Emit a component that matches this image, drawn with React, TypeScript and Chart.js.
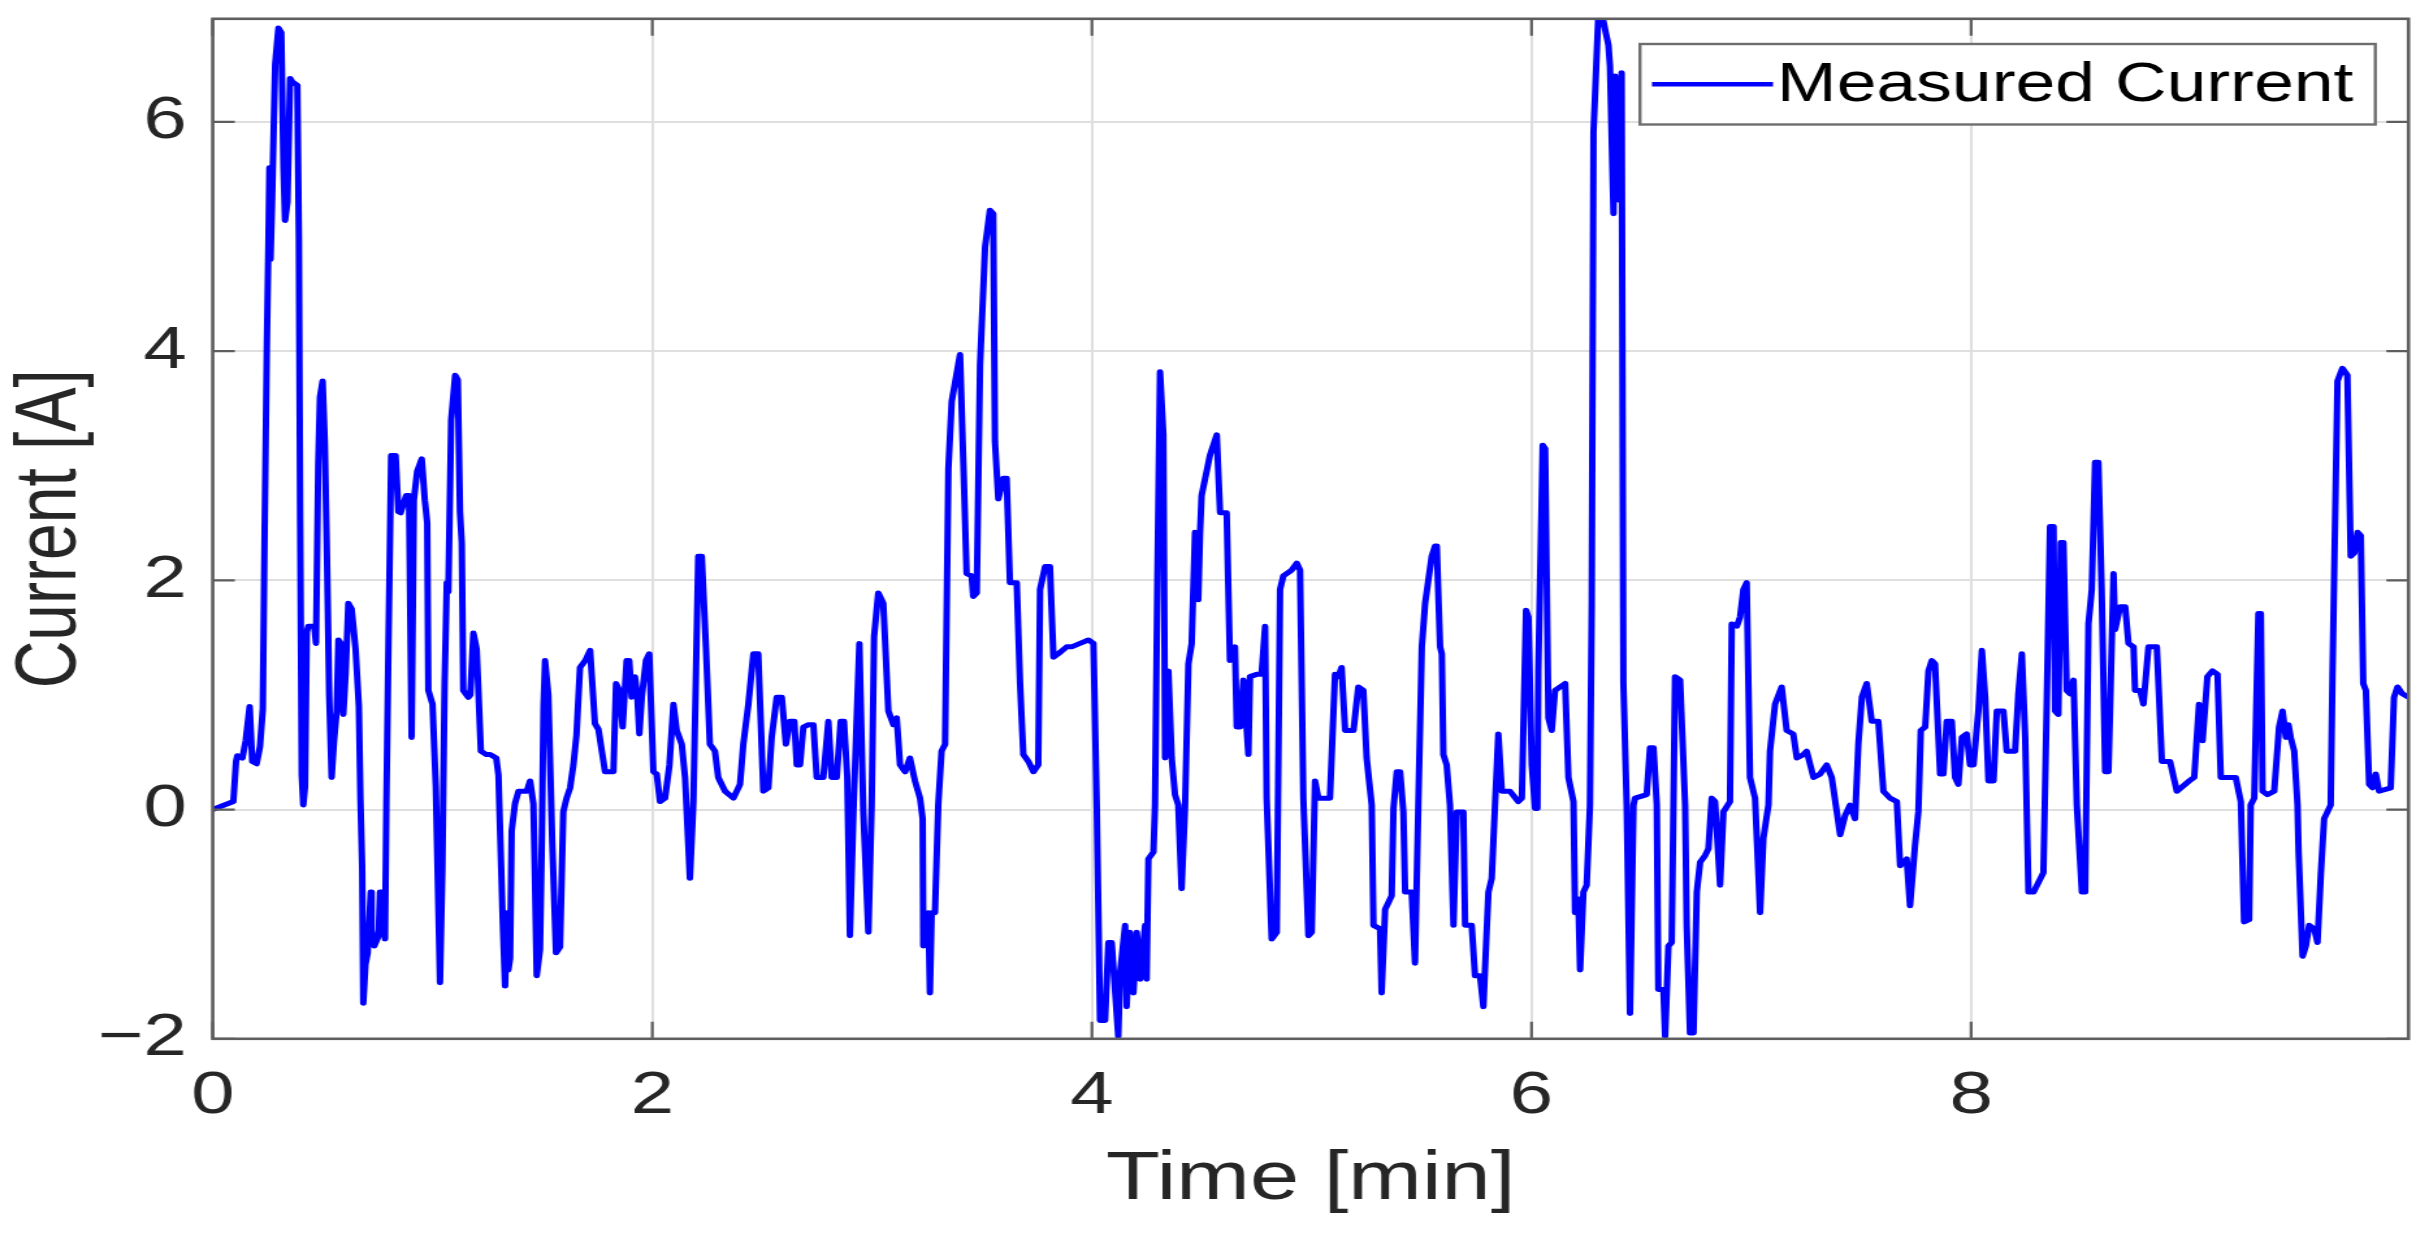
import React, { useEffect, useRef } from 'react';
import { Chart, registerables } from 'chart.js';

Chart.register(...registerables);

// ---- data ----
const timeMin: number[] = [
  0, 0.094, 0.106, 0.112, 0.135, 0.15, 0.168, 0.18, 0.2, 0.215, 0.228, 0.236, 0.246, 0.253, 0.258, 0.263, 0.27, 0.284, 0.299, 0.312,
  0.322, 0.329, 0.34, 0.352, 0.362, 0.385, 0.392, 0.398, 0.405, 0.412, 0.42, 0.428, 0.435, 0.462, 0.47, 0.48, 0.488, 0.5, 0.51, 0.519,
  0.53, 0.541, 0.552, 0.564, 0.572, 0.583, 0.594, 0.605, 0.617, 0.632, 0.65, 0.665, 0.672, 0.68, 0.685, 0.695, 0.705, 0.719, 0.723, 0.735,
  0.755, 0.761, 0.775, 0.784, 0.79, 0.8, 0.812, 0.832, 0.845, 0.855, 0.88, 0.893, 0.905, 0.915, 0.93, 0.951, 0.965, 0.976, 0.981, 1.0,
  1.015, 1.034, 1.045, 1.055, 1.065, 1.072, 1.085, 1.103, 1.115, 1.125, 1.133, 1.14, 1.163, 1.172, 1.186, 1.201, 1.22, 1.245, 1.262, 1.29,
  1.3, 1.32, 1.33, 1.34, 1.345, 1.353, 1.36, 1.375, 1.391, 1.429, 1.444, 1.459, 1.465, 1.474, 1.489, 1.498, 1.505, 1.512, 1.527, 1.545,
  1.562, 1.58, 1.595, 1.61, 1.626, 1.641, 1.655, 1.671, 1.695, 1.717, 1.739, 1.755, 1.785,
  1.823, 1.835, 1.85, 1.865, 1.883, 1.895, 1.906, 1.921, 1.932, 1.941, 1.952, 1.971, 1.986, 2.005, 2.02, 2.035, 2.058, 2.078, 2.096, 2.111,
  2.134, 2.149, 2.171, 2.187, 2.209, 2.225, 2.244, 2.262, 2.285, 2.3, 2.331, 2.369, 2.399, 2.414, 2.437, 2.46, 2.482, 2.505, 2.528, 2.543,
  2.566, 2.589, 2.608, 2.626, 2.646, 2.657, 2.672, 2.687, 2.71, 2.733, 2.748, 2.778, 2.801, 2.816, 2.839, 2.857, 2.872, 2.887, 2.899, 2.915,
  2.942, 2.96, 2.983, 2.998, 3.009, 3.028, 3.051, 3.074, 3.097, 3.112, 3.127, 3.15, 3.172, 3.195, 3.218, 3.23, 3.233, 3.256, 3.263, 3.271,
  3.286, 3.301, 3.316, 3.332, 3.347, 3.362, 3.4, 3.415, 3.43, 3.453, 3.46, 3.476, 3.491, 3.514, 3.536, 3.551, 3.559, 3.574, 3.597, 3.612,
  3.627, 3.658,
  3.673, 3.688, 3.711, 3.734, 3.756, 3.764, 3.787, 3.809, 3.825, 3.847, 3.885, 3.908, 3.946, 3.984, 4.007, 4.022, 4.037, 4.06, 4.075, 4.09,
  4.105, 4.12, 4.128, 4.151, 4.158, 4.173, 4.189, 4.204, 4.219, 4.242, 4.249, 4.257, 4.28, 4.287, 4.298, 4.31, 4.325, 4.333, 4.348, 4.363,
  4.378, 4.393, 4.408, 4.424, 4.439, 4.454, 4.469, 4.484, 4.492, 4.499, 4.537, 4.568, 4.583, 4.613, 4.628, 4.651, 4.659, 4.674, 4.689, 4.712,
  4.719, 4.75, 4.772, 4.788, 4.795, 4.818, 4.841, 4.856, 4.871, 4.909, 4.932, 4.947, 4.962, 4.985, 5.0, 5.015, 5.03, 5.083, 5.106, 5.121,
  5.136, 5.152, 5.19, 5.212, 5.235, 5.25, 5.273, 5.281, 5.311, 5.318, 5.334, 5.364, 5.372, 5.387, 5.402,
  5.417, 5.425, 5.455, 5.47, 5.485, 5.501, 5.516, 5.546, 5.561, 5.569, 5.584, 5.592, 5.599, 5.614, 5.629, 5.645, 5.66, 5.69, 5.698, 5.728,
  5.743, 5.766, 5.781, 5.793, 5.804, 5.819, 5.834, 5.849, 5.865, 5.902, 5.94, 5.956, 5.975, 5.986, 6.001, 6.016, 6.027, 6.031, 6.051, 6.062,
  6.077, 6.092, 6.107, 6.153, 6.168, 6.191, 6.198, 6.213, 6.221, 6.236, 6.251, 6.266, 6.274, 6.282, 6.304, 6.327, 6.35, 6.357, 6.373, 6.38,
  6.395, 6.41, 6.418, 6.433, 6.448, 6.464, 6.471, 6.524, 6.539, 6.555, 6.57, 6.577, 6.6, 6.608, 6.623, 6.638, 6.653, 6.676, 6.699, 6.706,
  6.721, 6.737, 6.752, 6.767, 6.79, 6.805, 6.82, 6.835, 6.858, 6.873, 6.903, 6.911, 6.934, 6.949, 6.964, 6.979, 6.994, 7.017, 7.04, 7.055,
  7.078, 7.085, 7.108, 7.138, 7.161, 7.191, 7.207, 7.237,
  7.252, 7.283, 7.313, 7.343, 7.366, 7.389, 7.404, 7.427, 7.449, 7.472, 7.487, 7.503, 7.525, 7.548, 7.578, 7.601, 7.631, 7.662, 7.677, 7.707,
  7.722, 7.745, 7.76, 7.771, 7.791, 7.806, 7.821, 7.836, 7.859, 7.874, 7.889, 7.912, 7.927, 7.942, 7.958, 7.98, 7.995, 8.011, 8.033, 8.049,
  8.064, 8.079, 8.102, 8.117, 8.147, 8.162, 8.2, 8.215, 8.231, 8.246, 8.261, 8.284, 8.329, 8.344, 8.359, 8.375, 8.382, 8.397, 8.408, 8.42,
  8.435, 8.45, 8.466, 8.481, 8.504, 8.519, 8.534, 8.549, 8.564, 8.579, 8.594, 8.61, 8.625, 8.648, 8.655, 8.678, 8.701, 8.716, 8.739, 8.746,
  8.769, 8.784, 8.807, 8.845, 8.868, 8.905, 8.936,
  8.992, 9.015, 9.037, 9.053, 9.075, 9.098, 9.121, 9.136, 9.204, 9.227, 9.242, 9.265, 9.272, 9.288, 9.307, 9.318, 9.326, 9.348, 9.379, 9.401,
  9.417, 9.432, 9.444, 9.454, 9.47, 9.485, 9.49, 9.508, 9.523, 9.538, 9.561, 9.576, 9.591, 9.606, 9.636, 9.644, 9.659, 9.667, 9.689, 9.712,
  9.727, 9.743, 9.758, 9.773, 9.784, 9.796, 9.811, 9.826, 9.841, 9.856, 9.909, 9.924, 9.94, 9.962, 9.99,
];

const currentA: number[] = [
  0, 0.07, 0.42, 0.47, 0.45, 0.6, 0.9, 0.42, 0.4, 0.55, 0.88, 2.4, 4.0, 4.9, 5.6, 4.8, 5.3, 6.5, 6.82, 6.78,
  5.6, 5.14, 5.3, 6.38, 6.35, 6.32, 5.0, 2.5, 0.3, 0.04, 0.2, 1.55, 1.6, 1.6, 1.45, 3.0, 3.6, 3.74, 3.2, 2.3,
  1.0, 0.28, 0.6, 0.86, 1.48, 1.45, 0.83, 1.2, 1.8, 1.75, 1.4, 0.9, 0.1, -0.5, -1.69, -1.35, -1.25, -0.72, -1.05, -1.19,
  -1.1, -0.72, -0.72, -1.13, 0.03, 1.5, 3.09, 3.09, 2.6, 2.59, 2.74, 2.74, 0.63, 2.7, 2.95, 3.06, 2.7, 2.5, 1.04, 0.92,
  0.2, -1.51, -0.5, 1.1, 1.98, 1.9, 3.4, 3.79, 3.75, 2.6, 2.33, 1.04, 0.98, 1.0, 1.54, 1.4, 0.51, 0.48, 0.48, 0.45,
  0.3, -1.0, -1.54, -0.9, -1.4, -1.3, -0.19, 0.05, 0.16, 0.16, 0.25, 0.05, -0.5, -1.45, -1.22, -0.2, 0.9, 1.3, 1.0, -0.3,
  -1.25, -1.2, -0.02, 0.1, 0.19, 0.39, 0.65, 1.24, 1.3, 1.39, 0.75, 0.7, 0.33,
  0.33, 1.1, 1.04, 0.72, 1.3, 1.3, 0.98, 1.16, 0.98, 0.66, 0.98, 1.3, 1.36, 0.33, 0.31, 0.07, 0.1, 0.39, 0.92, 0.69,
  0.57, 0.28, -0.6, 0.07, 2.21, 2.21, 1.42, 0.57, 0.51, 0.28, 0.16, 0.1, 0.22, 0.57, 0.92, 1.36, 1.36, 0.16, 0.19, 0.63,
  0.98, 0.98, 0.57, 0.77, 0.77, 0.39, 0.39, 0.72, 0.74, 0.74, 0.28, 0.28, 0.77, 0.28, 0.28, 0.77, 0.77, 0.28, -1.1, -0.02,
  1.45, -0.02, -1.07, 0.04, 1.51, 1.89, 1.8, 0.86, 0.74, 0.8, 0.39, 0.33, 0.45, 0.25, 0.1, -0.08, -1.19, -0.9, -1.6, -0.9,
  -0.9, 0.04, 0.51, 0.57, 2.97, 3.56, 3.97, 3.03, 2.06, 2.04, 1.86, 1.89, 3.88, 4.91, 5.23, 5.2, 3.21, 2.71, 2.89, 2.89,
  1.98, 1.98,
  1.1, 0.48, 0.42, 0.33, 0.39, 1.92, 2.12, 2.12, 1.33, 1.36, 1.42, 1.42, 1.45, 1.48, 1.45, 0.04, -1.84, -1.84, -1.16, -1.16,
  -1.57, -1.98, -1.43, -1.01, -1.72, -1.07, -1.6, -1.07, -1.48, -1.01, -1.48, -0.43, -0.37, 0.04, 2.04, 3.82, 3.27, 0.45, 1.21, 0.45,
  0.13, 0.04, -0.69, 0.04, 1.27, 1.45, 2.42, 1.83, 2.42, 2.74, 3.09, 3.27, 2.59, 2.59, 1.3, 1.42, 0.72, 0.72, 1.13, 0.48,
  1.16, 1.18, 1.18, 1.6, 0.1, -1.13, -1.07, 1.92, 2.04, 2.09, 2.15, 2.09, 0.1, -1.1, -1.07, 0.25, 0.1, 0.1, 1.18, 1.16,
  1.24, 0.69, 0.69, 1.07, 1.04, 0.45, 0.04, -1.01, -1.04, -1.6, -0.87, -0.75, 0.01, 0.33, 0.33,
  -0.02, -0.72, -0.72, -1.34, 0.04, 1.42, 1.8, 2.21, 2.3, 2.3, 1.42, 1.36, 0.48, 0.39, 0.04, -1.01, -0.02, -0.02, -1.01, -1.01,
  -1.45, -1.45, -1.72, -1.19, -0.72, -0.6, 0.04, 0.66, 0.16, 0.16, 0.07, 0.1, 1.74, 1.68, 0.39, 0.01, 0.01, 1.21, 3.18, 3.15,
  0.8, 0.69, 1.04, 1.1, 0.28, 0.07, -0.9, -0.78, -1.4, -0.72, -0.66, 0.04, 1.8, 5.91, 6.93, 6.88, 6.67, 6.49, 5.2, 6.4,
  5.32, 6.43, 1.1, 0.04, -1.78, 0.04, 0.1, 0.13, 0.54, 0.54, 0.04, -1.57, -1.57, -1.98, -1.19, -1.16, 1.16, 1.13, 0.04, -1.01,
  -1.95, -1.95, -0.72, -0.46, -0.4, -0.34, 0.1, 0.07, -0.66, -0.02, 0.07, 1.62, 1.6, 1.68, 1.92, 1.98, 0.28, 0.1, -0.9, -0.25,
  0.04, 0.51, 0.92, 1.07, 0.69, 0.66, 0.45, 0.48,
  0.51, 0.28, 0.31, 0.39, 0.28, -0.02, -0.22, -0.05, 0.04, -0.08, 0.57, 0.98, 1.1, 0.77, 0.77, 0.16, 0.1, 0.07, -0.49, -0.43,
  -0.84, -0.31, -0.02, 0.69, 0.72, 1.21, 1.3, 1.27, 0.31, 0.31, 0.77, 0.77, 0.28, 0.22, 0.63, 0.66, 0.39, 0.39, 0.86, 1.39,
  0.98, 0.25, 0.25, 0.86, 0.86, 0.51, 0.51, 1.01, 1.36, 0.63, -0.72, -0.72, -0.55, 0.92, 2.47, 2.47, 0.86, 0.83, 2.33, 2.33,
  1.04, 1.01, 1.13, 0.04, -0.72, -0.72, 1.62, 1.92, 3.03, 3.03, 1.92, 0.33, 0.33, 2.06, 1.57, 1.77, 1.77, 1.45, 1.42, 1.04,
  1.04, 0.92, 1.42, 1.42, 0.42, 0.42, 0.16,
  0.25, 0.28, 0.92, 0.6, 1.16, 1.21, 1.18, 0.28, 0.28, 0.07, -0.98, -0.96, 0.04, 0.1, 1.71, 1.71, 0.16, 0.13, 0.16, 0.72,
  0.86, 0.63, 0.74, 0.63, 0.51, 0.04, -0.37, -1.28, -1.19, -1.01, -1.04, -1.16, -0.57, -0.08, 0.04, 1.16, 2.86, 3.74, 3.85, 3.79,
  2.21, 2.24, 2.42, 2.39, 1.1, 1.04, 0.22, 0.19, 0.31, 0.16, 0.19, 0.98, 1.07, 1.01, 0.98,
];

const xTickStep = 2;
const yTickStep = 2;
const xRange = [0, 9.99];
const yRange = [-2, 6.9];
const seriesLabel = 'Measured Current';
const xTitle = 'Time [min]';
const yTitle = 'Current [A]';

// ---- layout ----
const OUT_W = 2429;
const OUT_H = 1240;
const STRETCH = 1.3; // the reference figure is horizontally stretched
const CW = Math.round(OUT_W / STRETCH);
const S = OUT_W / CW;
const PLOT_LEFT = 212.7 / S;
const PLOT_RIGHT = 2408.5 / S;
const PLOT_TOP = 18.8;
const PLOT_BOTTOM = 1038.8;
const FONT = '"Liberation Sans", Arial, Helvetica, sans-serif';
const TEXT_COLOR = '#262626';
const AXIS_COLOR = '#5e5e5e';

const fmt = (v: number | string) => {
  const n = Number(v);
  return n < 0 ? '\u2212' + String(Math.abs(n)) : String(n);
};

const framePlugin = {
  id: 'matlabFrame',
  afterDatasetsDraw(chart: any) {
    const { ctx, chartArea: a, scales } = chart;
    const xs = scales.x;
    const ys = scales.y;
    const tl = 17;
    ctx.save();
    ctx.strokeStyle = AXIS_COLOR;
    ctx.lineWidth = 2.2;
    ctx.beginPath();
    xs.ticks.forEach((t: any) => {
      const px = xs.getPixelForValue(t.value);
      ctx.moveTo(px, a.bottom);
      ctx.lineTo(px, a.bottom - tl);
      ctx.moveTo(px, a.top);
      ctx.lineTo(px, a.top + tl);
    });
    ys.ticks.forEach((t: any) => {
      const py = ys.getPixelForValue(t.value);
      ctx.moveTo(a.left, py);
      ctx.lineTo(a.left + tl, py);
      ctx.moveTo(a.right, py);
      ctx.lineTo(a.right - tl, py);
    });
    ctx.stroke();
    ctx.lineWidth = 2.6;
    ctx.strokeRect(a.left, a.top, a.right - a.left, a.bottom - a.top);
    ctx.restore();
  },
};

const legendPlugin = {
  id: 'boxedLegend',
  afterDraw(chart: any) {
    const { ctx, chartArea: a } = chart;
    const ds = chart.data.datasets[0];
    const right = a.right - 25.5;
    const left = 1640 / S;
    const top = a.top + 25.2;
    const bottom = 124.5;
    ctx.save();
    ctx.fillStyle = '#ffffff';
    ctx.fillRect(left, top, right - left, bottom - top);
    ctx.strokeStyle = '#6e6e6e';
    ctx.lineWidth = 2.4;
    ctx.strokeRect(left, top, right - left, bottom - top);
    const cy = (top + bottom) / 2;
    ctx.strokeStyle = ds.borderColor;
    ctx.lineWidth = 4.5;
    ctx.beginPath();
    ctx.moveTo(1652 / S, cy);
    ctx.lineTo(1773 / S, cy);
    ctx.stroke();
    ctx.fillStyle = '#000000';
    ctx.font = `55px ${FONT}`;
    ctx.textAlign = 'left';
    ctx.textBaseline = 'middle';
    ctx.fillText(ds.label, 1777 / S, cy + 2);
    ctx.restore();
  },
};

export default function App() {
  const ref = useRef<HTMLCanvasElement | null>(null);

  useEffect(() => {
    document.body.style.margin = '0';
    document.body.style.overflow = 'hidden';
    document.body.style.background = '#ffffff';
    const canvas = ref.current;
    if (!canvas) return;
    const points = timeMin.map((t, i) => ({ x: t, y: currentA[i] }));
    const chart = new Chart(canvas, {
      type: 'line',
      data: {
        datasets: [
          {
            label: seriesLabel,
            data: points,
            borderColor: '#0000ff',
            backgroundColor: '#0000ff',
            borderWidth: 5,
            pointRadius: 0,
            pointHoverRadius: 0,
            tension: 0,
            fill: false,
            clip: 0,
            borderJoinStyle: 'round',
            borderCapStyle: 'round',
          } as any,
        ],
      },
      options: {
        responsive: false,
        animation: false,
        devicePixelRatio: 1,
        events: [],
        layout: {
          padding: { top: PLOT_TOP, right: CW - PLOT_RIGHT, bottom: 0, left: 0 },
        },
        plugins: {
          legend: { display: false },
          tooltip: { enabled: false },
        },
        scales: {
          x: {
            type: 'linear',
            min: xRange[0],
            max: xRange[1],
            afterFit: (s: any) => {
              s.height = OUT_H - PLOT_BOTTOM;
              s.paddingLeft = 0;
              s.paddingRight = 0;
            },
            ticks: {
              stepSize: xTickStep,
              includeBounds: false,
              autoSkip: false,
              maxRotation: 0,
              padding: 22,
              color: TEXT_COLOR,
              font: { family: FONT, size: 60 },
              callback: (v: any) => fmt(v),
            },
            grid: { color: '#dfdfdf', lineWidth: 2, drawTicks: false },
            border: { display: false },
            title: {
              display: true,
              text: xTitle,
              color: TEXT_COLOR,
              font: { family: FONT, size: 68 },
              padding: { top: 0, bottom: 19 },
            },
          },
          y: {
            type: 'linear',
            min: yRange[0],
            max: yRange[1],
            afterFit: (s: any) => {
              s.width = PLOT_LEFT;
              s.paddingTop = 0;
              s.paddingBottom = 0;
            },
            ticks: {
              stepSize: yTickStep,
              includeBounds: false,
              autoSkip: false,
              padding: 20,
              color: TEXT_COLOR,
              font: { family: FONT, size: 60 },
              callback: (v: any) => fmt(v),
            },
            grid: { color: '#dfdfdf', lineWidth: 2, drawTicks: false },
            border: { display: false },
            title: {
              display: true,
              text: yTitle,
              color: TEXT_COLOR,
              font: { family: FONT, size: 66 },
              padding: { top: 0, bottom: 0 },
            },
          },
        },
      } as any,
      plugins: [framePlugin, legendPlugin],
    });
    return () => {
      chart.destroy();
    };
  }, []);

  return (
    <canvas
      ref={ref}
      width={CW}
      height={OUT_H}
      style={{ display: 'block', width: `${OUT_W}px`, height: `${OUT_H}px` }}
    />
  );
}
